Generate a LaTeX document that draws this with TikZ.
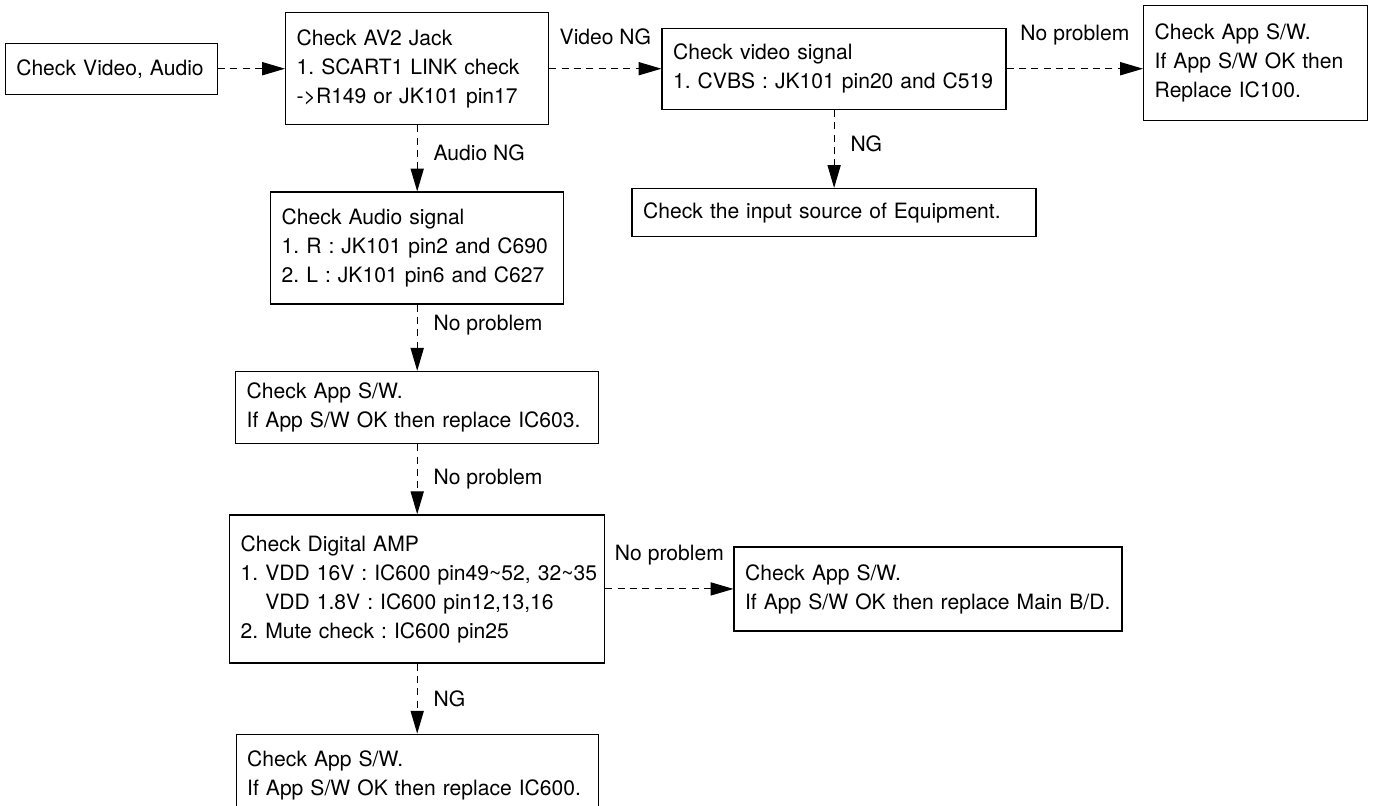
\documentclass[tikz,border=0pt]{standalone}
\usepackage{fontspec}
\setmainfont{TeX Gyre Heros}
\frenchspacing
\usetikzlibrary{arrows.meta, positioning}

\begin{document}
\begin{tikzpicture}[
node distance=1.34cm,
font=\fontsize{12}{16.5}\selectfont,
box/.style={draw,
rectangle,
line width=0.8pt,
inner xsep=0.22cm,
align=left},
arrow/.style={-{Triangle[length=13pt, width=7.5pt]}, line width=0.6pt, dash pattern=on 4pt off 3pt}
]

\useasboundingbox (0,0) rectangle (27.48,-16.10);
\clip (0,0) rectangle (27.48,-16.10);

\node[box, anchor=north west, text width=4.82cm, minimum height=2.24cm] (jack) at (5.70,-0.24) {Check AV2 Jack\\1. SCART1 LINK check\\->R149 or JK101 pin17};
\node[box, text width=3.80cm, minimum height=1.02cm, left=of jack] (start) {Check Video, Audio};
\node[box, text width=6.44cm, minimum height=1.62cm, right=2.24cm of jack] (videochk) {Check video signal\\1. CVBS : JK101 pin20 and C519};
\node[box, anchor=north west, text width=4.04cm, minimum height=2.30cm] (appsw1) at (22.86,-0.10) {Check App S/W.\\If App S/W OK then\\Replace IC100.};
\node[box, text width=7.64cm, minimum height=0.96cm, below=1.56cm of videochk] (source) {Check the input source of Equipment.};

\node[box, text width=5.42cm, minimum height=2.24cm, below=1.32cm of jack] (audiochk) {Check Audio signal\\1. R : JK101 pin2 and C690\\2. L : JK101 pin6 and C627};
\node[box, text width=6.82cm, minimum height=1.44cm, below=1.32cm of audiochk] (appsw2) {Check App S/W.\\If App S/W OK then replace IC603.};
\node[box, text width=7.06cm, minimum height=2.96cm, below=1.40cm of appsw2] (amp) {Check Digital AMP\\\mbox{1. VDD 16V : IC600 pin49\textasciitilde52, 32\textasciitilde35}\\\phantom{1. }VDD 1.8V : IC600 pin12,13,16\\2. Mute check : IC600 pin25};
\node[box, text width=7.32cm, minimum height=1.68cm, right=2.56cm of amp] (appsw3) {Check App S/W.\\\mbox{If App S/W OK then replace Main B/D.}};
\node[box, text width=6.80cm, minimum height=1.64cm, below=1.40cm of amp] (appsw4) {Check App S/W.\\If App S/W OK then replace IC600.};

\draw[arrow] (start) -- (jack);
\draw[arrow] (jack) -- node[above=0.35cm] {Video NG} (videochk);
\draw[arrow] (videochk.east) -- node[above=0.35cm] {No problem} (videochk.east -| appsw1.west);
\draw[arrow] (videochk) -- node[pos=0.44, right=0.2cm] {NG} (source);
\draw[arrow] (jack) -- node[pos=0.42, right=0.2cm] {Audio NG} (audiochk);
\draw[arrow] (audiochk) -- node[pos=0.3, right=0.2cm] {No problem} (appsw2);
\draw[arrow] (appsw2) -- node[right=0.2cm] {No problem} (amp);
\draw[arrow] (amp) -- node[above=0.35cm] {No problem} (appsw3);
\draw[arrow] (amp) -- node[right=0.2cm] {NG} (appsw4);

\end{tikzpicture}
\end{document}
